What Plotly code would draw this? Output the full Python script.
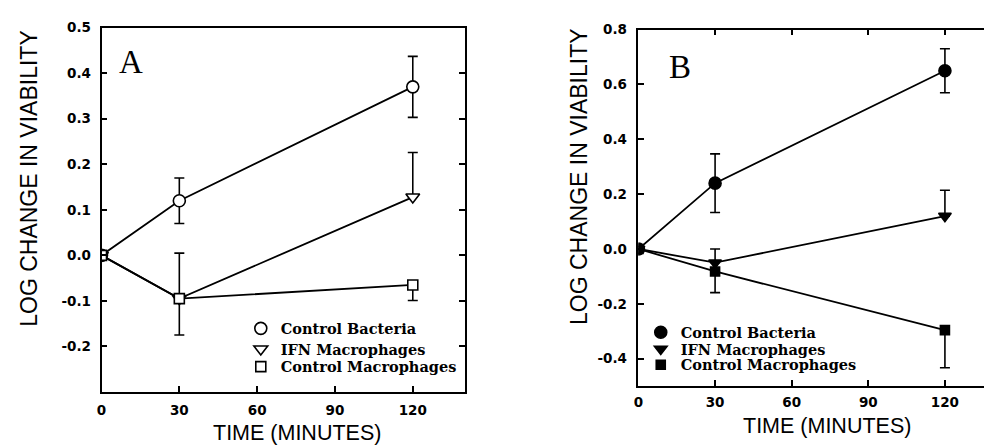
import plotly.graph_objects as go

# ---------------- data ----------------
time_min = [0, 30, 120]

# Panel A
a_ctrl_bact = [0.0, 0.12, 0.37]
a_ctrl_bact_err = [0.0, 0.05, 0.067]
a_ifn_mac = [0.0, -0.095, 0.128]
a_ifn_mac_err_up = [0.0, 0.10, 0.098]
a_ctrl_mac = [0.0, -0.095, -0.065]
a_ctrl_mac_err_down = [0.0, 0.08, 0.034]

# Panel B
b_ctrl_bact = [0.0, 0.24, 0.65]
b_ctrl_bact_err = [0.0, 0.107, 0.08]
b_ifn_mac = [0.0, -0.05, 0.12]
b_ifn_mac_err_up = [0.0, 0.05, 0.094]
b_ctrl_mac = [0.0, -0.082, -0.296]
b_ctrl_mac_err_down = [0.0, 0.077, 0.137]

series_names = ["Control Bacteria", "IFN Macrophages", "Control Macrophages"]

x_ticks = [0, 30, 60, 90, 120]
x_ticktext = ["0", "30", "60", "90", "120"]
a_y_ticks = [-0.2, -0.1, 0.0, 0.1, 0.2, 0.3, 0.4, 0.5]
a_y_ticktext = ["-0.2", "-0.1", "0.0", "0.1", "0.2", "0.3", "0.4", "0.5"]
b_y_ticks = [-0.4, -0.2, 0.0, 0.2, 0.4, 0.6, 0.8]
b_y_ticktext = ["-0.4", "-0.2", "0.0", "0.2", "0.4", "0.6", "0.8"]

# ---------------- figure ----------------
W, H = 984, 446
fig = go.Figure()
BLACK = "black"
LW = 1.8


def add_series(y, plus, minus, symbol, size, filled, name, xa, ya, legend):
    fig.add_trace(go.Scatter(
        x=time_min, y=y, mode="lines", xaxis=xa, yaxis=ya,
        line=dict(color=BLACK, width=LW), showlegend=False, hoverinfo="skip"))
    fig.add_trace(go.Scatter(
        x=time_min, y=y, mode="markers", xaxis=xa, yaxis=ya, name=name,
        legend=legend,
        marker=dict(symbol=symbol, size=size,
                    color=BLACK if filled else "white",
                    line=dict(color=BLACK, width=1.6)),
        error_y=dict(type="data", symmetric=False, array=plus, arrayminus=minus,
                     color=BLACK, thickness=1.6, width=5),
    ))


zeros = [0.0, 0.0, 0.0]
# Panel A (open symbols)
add_series(a_ctrl_bact, a_ctrl_bact_err, a_ctrl_bact_err, "circle", 12, False,
           series_names[0], "x", "y", "legend")
add_series(a_ifn_mac, a_ifn_mac_err_up, zeros, "triangle-down", 12, False,
           series_names[1], "x", "y", "legend2")
add_series(a_ctrl_mac, zeros, a_ctrl_mac_err_down, "square", 10, False,
           series_names[2], "x", "y", "legend3")
# Panel B (filled symbols)
add_series(b_ctrl_bact, b_ctrl_bact_err, b_ctrl_bact_err, "circle", 12, True,
           series_names[0], "x2", "y2", "legend4")
add_series(b_ifn_mac, b_ifn_mac_err_up, zeros, "triangle-down", 11, True,
           series_names[1], "x2", "y2", "legend5")
add_series(b_ctrl_mac, zeros, b_ctrl_mac_err_down, "square", 9, True,
           series_names[2], "x2", "y2", "legend6")

tickfont = dict(family="DejaVu Sans", size=13.5, color=BLACK, weight="bold")
axis_common = dict(showgrid=False, zeroline=False, showline=True, linecolor=BLACK,
                   linewidth=1.6, ticks="inside", ticklen=6, tickwidth=1.6,
                   tickcolor=BLACK, tickfont=tickfont)

legend_font = dict(family="DejaVu Serif", size=14.5, color=BLACK, weight="bold")


def leg(xpx, ytop):
    return dict(x=xpx / W, y=1 - ytop / H, xanchor="left", yanchor="top",
                bgcolor="rgba(0,0,0,0)", borderwidth=0, font=legend_font,
                itemsizing="trace")


fig.update_layout(
    width=W, height=H, margin=dict(l=0, r=0, t=0, b=0),
    paper_bgcolor="white", plot_bgcolor="white",
    xaxis=dict(domain=[97 / W, 462 / W], range=[0, 140], anchor="y",
               tickvals=x_ticks, ticktext=x_ticktext, mirror=True,
               ticklabelstandoff=5, **axis_common),
    yaxis=dict(domain=[1 - 391 / H, 1 - 20 / H], range=[-0.3, 0.5], anchor="x",
               tickvals=a_y_ticks, ticktext=a_y_ticktext, mirror="ticks",
               ticklabelstandoff=6, **axis_common),
    xaxis2=dict(domain=[636.7 / W, 1.0], range=[0, 135.3], anchor="y2",
                tickvals=x_ticks, ticktext=x_ticktext, mirror="ticks",
                ticklabelstandoff=3, **axis_common),
    yaxis2=dict(domain=[1 - 385 / H, 1 - 22 / H], range=[-0.5, 0.8], anchor="x2",
                tickvals=b_y_ticks, ticktext=b_y_ticktext, mirror=False,
                ticklabelstandoff=7, **axis_common),
    legend=leg(237, 310),
    legend2=leg(237, 331),
    legend3=leg(237, 349),
    legend4=leg(639, 314),
    legend5=leg(639, 331),
    legend6=leg(639, 347),
    showlegend=True,
)

xtitle_font = dict(family="Liberation Sans", size=21.5, color=BLACK)
ytitle_font = dict(family="Liberation Sans", size=23, color=BLACK)
annotations = [
    dict(text="TIME (MINUTES)", x=293 / W, y=0, xref="paper", yref="paper",
         showarrow=False, font=xtitle_font, xanchor="center", yanchor="bottom",
         borderpad=0),
    dict(text="TIME (MINUTES)", x=826 / W, y=1 - 439 / H, xref="paper", yref="paper",
         showarrow=False, font=xtitle_font, xanchor="center", yanchor="bottom",
         borderpad=0),
    dict(text="LOG CHANGE IN VIABILITY", x=24 / W, y=1 - 173 / H, xref="paper",
         yref="paper", showarrow=False, font=ytitle_font, textangle=-90,
         xanchor="center", yanchor="middle"),
    dict(text="LOG CHANGE IN VIABILITY", x=577 / W, y=1 - 172 / H, xref="paper",
         yref="paper", showarrow=False, font=ytitle_font, textangle=-90,
         xanchor="center", yanchor="middle"),
    dict(text="A", x=127 / W, y=1 - 55 / H, xref="paper", yref="paper",
         showarrow=False, font=dict(family="Liberation Serif", size=33, color=BLACK),
         xanchor="center", yanchor="middle"),
    dict(text="B", x=678 / W, y=1 - 60 / H, xref="paper", yref="paper",
         showarrow=False, font=dict(family="Liberation Serif", size=33, color=BLACK),
         xanchor="center", yanchor="middle"),
]
fig.update_layout(annotations=annotations)

fig.write_html("out.html")
